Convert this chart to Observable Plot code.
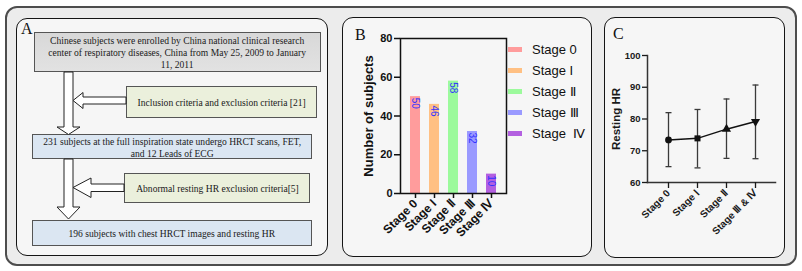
<!DOCTYPE html>
<html>
<head>
<meta charset="utf-8">
<script src="https://cdn.jsdelivr.net/npm/d3@7"></script>
<script src="https://cdn.jsdelivr.net/npm/@observablehq/plot@0.6"></script>
<style>
  html, body { margin: 0; padding: 0; background: #fff; }
  #root { position: relative; width: 802px; height: 271px; overflow: hidden; background: #fff; font-family: "Liberation Sans", Arial, sans-serif; }
  .abs { position: absolute; box-sizing: border-box; }
  .outer { border: 2px solid #4d4d4d; border-radius: 12px; background: #ececec; }
  .panel { border: 1.5px solid #151515; border-radius: 11px; background: #f6f6f6; }
  .plabel { font-family: "Liberation Serif", "Times New Roman", serif; font-size: 16px; color: #111; line-height: 1; }
  .box { border: 1px solid #555; font-family: "Liberation Serif", "Times New Roman", serif; font-size: 11px; line-height: 12px; color: #1a1a1a; text-align: center; display: flex; align-items: center; justify-content: center; white-space: nowrap; }
  .box span { display: inline-block; transform: scaleX(0.87); transform-origin: center; }
  .legrow { position: absolute; display: flex; align-items: center; font-size: 13px; color: #111; white-space: pre; }
  .sw { width: 14px; height: 5px; margin-right: 10px; }
</style>
</head>
<body>
<div id="root"></div>
<script>
// ---------- data ----------
const stages = ["Stage 0", "Stage I", "Stage Ⅱ", "Stage Ⅲ", "Stage Ⅳ"];
const legendLabels = ["Stage 0", "Stage I", "Stage Ⅱ", "Stage Ⅲ", "Stage  Ⅳ"];
const counts = [50, 46, 58, 32, 10];
const stageColors = ["#ff9c9c", "#ffc083", "#9cfa9c", "#9a9aff", "#b360e0"];
const countTicks = [0, 20, 40, 60, 80];

const hrStages = ["Stage 0", "Stage Ⅰ", "Stage Ⅱ", "Stage Ⅲ & Ⅳ"];
const hrMean = [73.4, 73.9, 76.8, 79.2];
const hrLow = [65.0, 64.6, 67.6, 67.5];
const hrHigh = [82.0, 83.0, 86.3, 90.7];
const hrTicks = [60, 70, 80, 90, 100];

const flowMain = [
  ["Chinese subjects were enrolled by China national clinical research", "center of respiratory diseases, China from May 25, 2009 to January", "11, 2011"],
  ["231 subjects at the full inspiration state undergo HRCT scans, FET,", "and 12 Leads of ECG"],
  ["196 subjects with chest HRCT images and resting HR"]
];
const flowSide = [
  ["Inclusion criteria and exclusion criteria [21]"],
  ["Abnormal resting HR exclusion criteria[5]"]
];

// ---------- layout helpers ----------
const root = document.getElementById("root");
function div(cls, l, t, w, h, html, extra) {
  const d = document.createElement("div");
  d.className = "abs " + cls;
  Object.assign(d.style, {left: l + "px", top: t + "px", width: w + "px", height: h + "px"}, extra || {});
  if (html != null) d.innerHTML = html;
  root.appendChild(d);
  return d;
}
const lines = arr => "<span>" + arr.join("<br>") + "</span>";

div("outer", 5, 6, 792, 260);
div("panel", 16, 18, 312, 238);
div("panel", 342, 17, 250, 240);
div("panel", 604, 17, 181, 241);
div("plabel", 21, 21, 20, 18, "A");
div("plabel", 355, 27, 20, 18, "B");
div("plabel", 613, 26, 20, 18, "C");

// ---------- panel A flowchart ----------
div("box", 34, 32, 287, 40, lines(flowMain[0]), {background: "linear-gradient(#d8d8d8,#e2e2e2)"});
div("box", 126, 86, 191, 32, lines(flowSide[0]), {background: "#ebf0dc"});
div("box", 32, 134, 280, 25, lines(flowMain[1]), {background: "#dbe6f2"});
div("box", 124, 173, 186, 30, lines(flowSide[1]), {background: "#ebf0dc"});
div("box", 32, 220, 280, 26, lines(flowMain[2]), {background: "#dbe6f2"});

const ns = "http://www.w3.org/2000/svg";
const arrows = document.createElementNS(ns, "svg");
arrows.setAttribute("width", 802); arrows.setAttribute("height", 271);
arrows.style.position = "absolute"; arrows.style.left = "0"; arrows.style.top = "0";
const polys = [
  "64,72 73,72 73,127 80,127 68.5,134.5 57,127 64,127",
  "126,97 83,97 83,92.5 73,100.5 83,108.5 83,104 126,104",
  "64,159 73,159 73,207 80,207 68.5,219 57,207 64,207",
  "124,184 91,184 91,178 73,187.5 91,197.5 91,191.5 124,191.5"
];
polys.forEach(p => {
  const e = document.createElementNS(ns, "polygon");
  e.setAttribute("points", p);
  e.setAttribute("fill", "#fff");
  e.setAttribute("stroke", "#222");
  e.setAttribute("stroke-width", "1");
  arrows.appendChild(e);
});
root.appendChild(arrows);

// ---------- panel B bar chart ----------
const barData = stages.map((s, i) => ({stage: s, count: counts[i]}));
const plotB = Plot.plot({
  width: 235, height: 225,
  marginLeft: 50, marginRight: 79, marginTop: 18, marginBottom: 52,
  style: {background: "transparent", fontFamily: "'Liberation Sans', Arial, sans-serif", color: "#111"},
  x: {domain: stages, padding: 0.45},
  y: {domain: [0, 80]},
  color: {domain: stages, range: stageColors},
  marks: [
    Plot.barY(barData, {x: "stage", y: "count", fill: "stage"}),
    Plot.text(barData, {x: "stage", y: "count", text: d => String(d.count), rotate: 90, textAnchor: "start", dy: 1, fill: "#3333ff", fontSize: 10}),
    Plot.frame({stroke: "#111", strokeWidth: 1.5}),
    Plot.axisY({ticks: countTicks, tickSize: 6, tickPadding: 2, fontSize: 11, fontWeight: "bold", strokeWidth: 1.5, label: "Number of subjects", labelArrow: "none", labelAnchor: "center", labelOffset: 37}),
    Plot.axisX({tickRotate: -45, tickSize: 5, tickPadding: 3, fontSize: 12, fontWeight: "bold", strokeWidth: 1.5, label: null})
  ]
});
const holderB = div("", 350, 20, 235, 225);
holderB.appendChild(plotB);
const yLabB = plotB.querySelector('[aria-label="y-axis label"] text');
if (yLabB) { yLabB.setAttribute("font-size", 13); yLabB.setAttribute("font-weight", "bold"); }

// legend for panel B
stages.forEach((s, i) => {
  const row = div("legrow", 508, 40 + i * 21, 90, 18, null);
  row.innerHTML = `<span class="sw" style="background:${stageColors[i]}"></span><span>${legendLabels[i]}</span>`;
});

// ---------- panel C error-bar chart ----------
const hrData = hrStages.map((s, i) => ({stage: s, mean: hrMean[i], lo: hrLow[i], hi: hrHigh[i]}));
const triangleDown = {
  draw(context, size) {
    const y = -Math.sqrt(size / (Math.sqrt(3) * 3));
    context.moveTo(0, -y * 2);
    context.lineTo(-Math.sqrt(3) * y, y);
    context.lineTo(Math.sqrt(3) * y, y);
    context.closePath();
  }
};
const capSymbol = {
  draw(context) { context.moveTo(-3, 0); context.lineTo(3, 0); }
};
const plotC = Plot.plot({
  width: 182, height: 210,
  marginLeft: 47, marginRight: 7, marginTop: 10, marginBottom: 73,
  style: {background: "transparent", fontFamily: "'Liberation Sans', Arial, sans-serif", color: "#1a1a1a"},
  x: {type: "point", domain: hrStages, padding: 0.67},
  y: {domain: [60, 100]},
  symbol: {domain: hrStages, range: [d3.symbolCircle, d3.symbolSquare, d3.symbolTriangle, triangleDown]},
  marks: [
    Plot.ruleX(hrData, {x: "stage", y1: "lo", y2: "hi", stroke: "#3a3a3a", strokeWidth: 1.3}),
    Plot.dot(hrData, {x: "stage", y: "hi", symbol: capSymbol, stroke: "#3a3a3a", fill: "none", strokeWidth: 1.3}),
    Plot.dot(hrData, {x: "stage", y: "lo", symbol: capSymbol, stroke: "#3a3a3a", fill: "none", strokeWidth: 1.3}),
    Plot.line(hrData, {x: "stage", y: "mean", stroke: "#111", strokeWidth: 1.5}),
    Plot.dot(hrData, {x: "stage", y: "mean", symbol: "stage", fill: "#111", r: 3.4}),
    Plot.frame({anchor: "left", stroke: "#333", strokeWidth: 1.5}),
    Plot.frame({anchor: "bottom", stroke: "#333", strokeWidth: 1.5}),
    Plot.axisY({ticks: hrTicks, tickSize: 5, tickPadding: 2, fontSize: 9.5, fontWeight: "bold", strokeWidth: 1.3, label: "Resting HR", labelArrow: "none", labelAnchor: "center", labelOffset: 36}),
    Plot.axisX({tickRotate: -45, tickSize: 6, tickPadding: 3, fontSize: 10, fontWeight: "bold", strokeWidth: 1.3, label: null})
  ]
});
const holderC = div("", 600, 45, 182, 210);
holderC.appendChild(plotC);
const yLabC = plotC.querySelector('[aria-label="y-axis label"] text');
if (yLabC) { yLabC.setAttribute("font-size", 11.5); yLabC.setAttribute("font-weight", "bold"); }
</script>
</body>
</html>
